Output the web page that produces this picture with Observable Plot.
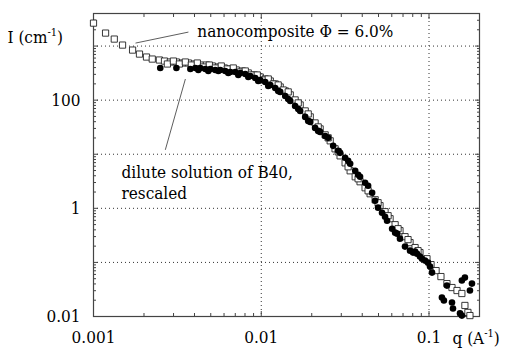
<!DOCTYPE html>
<html>
<head>
<meta charset="utf-8">
<script src="https://cdn.jsdelivr.net/npm/d3@7"></script>
<script src="https://cdn.jsdelivr.net/npm/@observablehq/plot@0.6"></script>
<style>
  html, body { margin: 0; padding: 0; background: #fff; }
  svg { display: block; }
</style>
</head>
<body>
<div id="chart"></div>
<script>
// nanocomposite Φ = 6.0% (open squares)
const nanoQ = [0.001, 0.00118, 0.00133, 0.00149, 0.00171, 0.00188, 0.00207, 0.00224, 0.00247, 0.00265,
  0.00287, 0.00312, 0.00339, 0.00368, 0.00399, 0.00433, 0.00471, 0.00511, 0.00555, 0.00602,
  0.00654, 0.0071, 0.00771, 0.00837, 0.00908, 0.00986, 0.01056, 0.01132, 0.01211, 0.01297,
  0.0139, 0.01489, 0.01592, 0.01706, 0.01828, 0.01959, 0.02094, 0.02244, 0.02404, 0.02576,
  0.02754, 0.02951, 0.03162, 0.03388, 0.03631, 0.03882, 0.04159, 0.04457, 0.04775, 0.05105,
  0.0547, 0.05861, 0.06281, 0.06714, 0.07194, 0.07709, 0.0826, 0.08831, 0.09727, 0.1028,
  0.1102, 0.1178, 0.1279, 0.1371, 0.1469, 0.157, 0.1637, 0.1706, 0.1754,
  0.002757, 0.002994, 0.00325, 0.003528, 0.003831, 0.004159, 0.004516, 0.004903, 0.005323, 0.005779,
  0.006275, 0.006813, 0.007396, 0.008031, 0.008719, 0.009467, 0.01028, 0.01101, 0.01179, 0.01262,
  0.01352, 0.01448, 0.01661, 0.01905, 0.02185, 0.02505, 0.02873, 0.03295, 0.0378, 0.04335,
  0.04971, 0.05702, 0.06539, 0.07499, 0.086];
const nanoI = [2655, 1738, 1346, 1043, 843, 711, 627, 575, 552, 528,
  507, 507, 486, 486, 466, 446, 446, 428, 410, 393,
  377, 361, 346, 318, 292, 268, 246, 226, 199, 175,
  148, 125, 101, 81.5, 63.2, 49.0, 37.9, 29.4, 22.8, 17.7,
  12.6, 9.34, 6.93, 4.94, 3.83, 3.10, 2.40, 1.86, 1.44, 1.12,
  0.866, 0.643, 0.498, 0.386, 0.299, 0.232, 0.188, 0.152, 0.117, 0.0911,
  0.0706, 0.0547, 0.0406, 0.0343, 0.0302, 0.0266, 0.016, 0.0119, 0.0104,
  466, 528, 466, 507, 446, 486, 410, 446, 393, 428,
  377, 393, 331, 346, 292, 292, 236, 246, 199, 191,
  154, 142, 88.8, 55.6, 32.0, 20.1, 11.1, 5.86, 3.52, 2.11,
  1.27, 0.730, 0.420, 0.264, 0.165];

// dilute solution of B40, rescaled (filled circles)
const diluteQ = [0.0025, 0.00312, 0.00378, 0.00405, 0.00433, 0.00464, 0.00497, 0.00532, 0.0057, 0.0061,
  0.00654, 0.007, 0.0075, 0.00803, 0.0086, 0.00921, 0.00986, 0.01056, 0.01132, 0.01211,
  0.01297, 0.0139, 0.01489, 0.01592, 0.01706, 0.01828, 0.01959, 0.02094, 0.02244, 0.02404,
  0.02504, 0.02683, 0.02951, 0.03162, 0.03388, 0.03631, 0.03882, 0.04159, 0.04335, 0.04581,
  0.04775, 0.0497, 0.05248, 0.05623, 0.06026, 0.06457, 0.06714, 0.07194, 0.07709, 0.08035,
  0.08485, 0.08831, 0.09465, 0.09863, 0.1014, 0.1042, 0.1194, 0.1227, 0.1279, 0.1371,
  0.139, 0.1531, 0.157, 0.157, 0.1637, 0.1754, 0.1803,
  0.004217, 0.004836, 0.00555, 0.006362, 0.007297, 0.00837, 0.009597, 0.01101, 0.01262, 0.01448,
  0.01661, 0.01905, 0.02185, 0.02873, 0.03295, 0.0378, 0.0547, 0.06281, 0.0826, 0.09085];
const diluteI = [393, 393, 377, 393, 393, 377, 377, 361, 361, 346,
  331, 331, 318, 304, 279, 257, 236, 217, 191, 168,
  142, 119, 96.6, 78.2, 63.2, 49.0, 39.6, 30.7, 25.9, 21.8,
  20.1, 14.3, 10.6, 8.59, 6.65, 4.94, 3.83, 2.97, 2.61, 1.94,
  1.38, 1.03, 0.830, 0.590, 0.420, 0.340, 0.275, 0.196, 0.165, 0.152,
  0.145, 0.128, 0.108, 0.0991, 0.0837, 0.0648, 0.0224, 0.0197, 0.0373, 0.0181,
  0.0141, 0.0114, 0.0104, 0.0462, 0.0524, 0.0302, 0.0406,
  361, 346, 346, 318, 292, 268, 226, 183, 148, 105,
  68.8, 41.3, 27.0, 11.6, 7.55, 4.17, 0.700, 0.355, 0.158, 0.117];

// axis ticks and labels
const xLabelTicks = [0.001, 0.01, 0.1];
const yLabelTicks = [0.01, 1, 100];
const xMajor = [0.001, 0.01, 0.1];
const yMajor = [0.01, 0.1, 1, 10, 100, 1000];
const xGridLines = [0.01, 0.1];
const yGridLines = [0.1, 1, 10, 100, 1000];
const mult = [2, 3, 4, 5, 6, 7, 8, 9];
const xMinor = [0.001, 0.01, 0.1].flatMap(d => mult.map(m => d * m)).filter(v => v <= 0.2);
const yMinor = [0.01, 0.1, 1, 10, 100, 1000].flatMap(d => mult.map(m => d * m)).filter(v => v <= 4000);

// annotations
const nanoLabel = "nanocomposite Φ = 6.0%";
const diluteLabel = "dilute solution of B40,\nrescaled";
const yTitle = "I (cm⁻¹)";
const xTitle = "q (A⁻¹)";

const nano = nanoQ.map((q, i) => ({q, I: nanoI[i]}));
const dilute = diluteQ.map((q, i) => ({q, I: diluteI[i]}));

const font = "'DejaVu Serif Condensed', 'DejaVu Serif', serif";
const gridStyle = {stroke: "#333", strokeOpacity: 1, strokeWidth: 1, strokeDasharray: "1,3"};
const tickStyle = {stroke: "#444", tickFormat: () => "", label: null};

const chart = Plot.plot({
  width: 505,
  height: 352,
  marginLeft: 93,
  marginRight: 26,
  marginTop: 13,
  marginBottom: 36,
  style: {fontFamily: font, fontSize: "17px", fontStretch: "condensed", color: "#000", background: "#fff"},
  x: {type: "log", domain: [0.001, 0.2]},
  y: {type: "log", domain: [0.01, 4000]},
  marks: [
    Plot.gridY(yGridLines, gridStyle),
    Plot.gridX(xGridLines, gridStyle),
    // inward major & minor ticks on all four sides
    Plot.axisY(yMajor, {...tickStyle, anchor: "left", tickSize: 5, dx: 5}),
    Plot.axisY(yMinor, {...tickStyle, anchor: "left", tickSize: 3, dx: 3}),
    Plot.axisY(yMajor, {...tickStyle, anchor: "right", tickSize: 5, dx: -5}),
    Plot.axisY(yMinor, {...tickStyle, anchor: "right", tickSize: 3, dx: -3}),
    Plot.axisX(xMajor, {...tickStyle, anchor: "bottom", tickSize: 5, dy: -5}),
    Plot.axisX(xMinor, {...tickStyle, anchor: "bottom", tickSize: 3, dy: -3}),
    Plot.axisX(xMajor, {...tickStyle, anchor: "top", tickSize: 5, dy: 5}),
    Plot.axisX(xMinor, {...tickStyle, anchor: "top", tickSize: 3, dy: 3}),
    // tick labels
    Plot.axisY(yLabelTicks, {anchor: "left", tickSize: 0, tickPadding: 13, tickFormat: d => String(d), label: null, fill: "#000", fontFamily: font}),
    Plot.axisX(xLabelTicks, {anchor: "bottom", tickSize: 0, tickPadding: 14, tickFormat: d => String(d), label: null, fill: "#000", fontFamily: font}),
    Plot.frame({stroke: "#444", strokeWidth: 1.2}),
    // data
    Plot.dot(nano, {x: "q", y: "I", symbol: "square", r: 3.5, fill: "#fff", stroke: "#222", strokeWidth: 0.9}),
    Plot.dot(dilute, {x: "q", y: "I", r: 3.3, fill: "#000", stroke: "none"}),
    // annotations
    Plot.link([{x1: 0.00178, y1: 1135, x2: 0.00368, y2: 1813}], {x1: "x1", y1: "y1", x2: "x2", y2: "y2", stroke: "#333", strokeWidth: 0.8}),
    Plot.link([{x1: 0.00353, y1: 246, x2: 0.00268, y2: 12.05}], {x1: "x1", y1: "y1", x2: "x2", y2: "y2", stroke: "#333", strokeWidth: 0.8}),
    Plot.text([nanoLabel], {x: () => 0.00416, y: () => 1892, text: d => d, textAnchor: "start", fill: "#000", fontFamily: font}),
    Plot.text([diluteLabel], {x: () => 0.001468, y: () => 3.16, text: d => d, textAnchor: "start", lineHeight: 1.24, fill: "#000", fontFamily: font}),
    Plot.text([yTitle], {frameAnchor: "top-left", text: d => d, textAnchor: "start", dx: -86, dy: 17, fill: "#000", fontFamily: font}),
    Plot.text([xTitle], {frameAnchor: "bottom-right", text: d => d, textAnchor: "start", dx: -27, dy: 27, fill: "#000", fontFamily: font})
  ]
});

// render "⁻¹" as a real superscript tspan
d3.select(chart).selectAll("text").each(function() {
  const t = d3.select(this);
  if (t.selectAll("tspan").size() === 0 && this.textContent.includes("⁻¹")) {
    const [a, b] = this.textContent.split("⁻¹");
    t.text(null);
    t.append("tspan").text(a);
    t.append("tspan").attr("font-size", "11px").attr("dy", "-7").text("-1");
    t.append("tspan").attr("dy", "7").text(b);
  }
});

document.getElementById("chart").appendChild(chart);
</script>
</body>
</html>
